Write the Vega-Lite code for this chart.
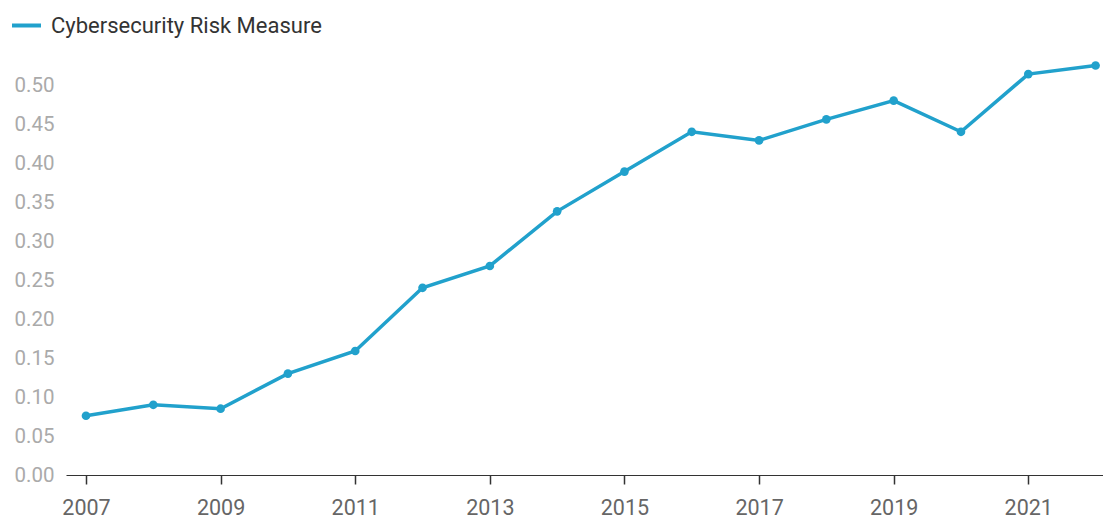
{
  "$schema": "https://vega.github.io/schema/vega-lite/v6.json",
  "width": 1037,
  "height": 429,
  "autosize": {"type": "none"},
  "padding": {"left": 66, "top": 46, "right": 0, "bottom": 44},
  "background": "white",
  "config": {"view": {"stroke": null}, "font": "Roboto"},
  "data": {"values": [
    {"year": 2007, "value": 0.076, "series": "Cybersecurity Risk Measure"},
    {"year": 2008, "value": 0.090, "series": "Cybersecurity Risk Measure"},
    {"year": 2009, "value": 0.085, "series": "Cybersecurity Risk Measure"},
    {"year": 2010, "value": 0.130, "series": "Cybersecurity Risk Measure"},
    {"year": 2011, "value": 0.159, "series": "Cybersecurity Risk Measure"},
    {"year": 2012, "value": 0.240, "series": "Cybersecurity Risk Measure"},
    {"year": 2013, "value": 0.268, "series": "Cybersecurity Risk Measure"},
    {"year": 2014, "value": 0.338, "series": "Cybersecurity Risk Measure"},
    {"year": 2015, "value": 0.389, "series": "Cybersecurity Risk Measure"},
    {"year": 2016, "value": 0.440, "series": "Cybersecurity Risk Measure"},
    {"year": 2017, "value": 0.429, "series": "Cybersecurity Risk Measure"},
    {"year": 2018, "value": 0.456, "series": "Cybersecurity Risk Measure"},
    {"year": 2019, "value": 0.480, "series": "Cybersecurity Risk Measure"},
    {"year": 2020, "value": 0.440, "series": "Cybersecurity Risk Measure"},
    {"year": 2021, "value": 0.514, "series": "Cybersecurity Risk Measure"},
    {"year": 2022, "value": 0.525, "series": "Cybersecurity Risk Measure"}
  ]},
  "encoding": {
    "x": {
      "field": "year", "type": "quantitative",
      "scale": {"domain": [2006.703, 2022.11], "nice": false, "zero": false},
      "axis": {
        "title": null,
        "values": [2007, 2009, 2011, 2013, 2015, 2017, 2019, 2021],
        "format": "d",
        "grid": false,
        "domainColor": "#333333",
        "domainWidth": 1.2,
        "tickColor": "#333333",
        "tickSize": 9,
        "tickWidth": 1.5,
        "labelFontSize": 21.5,
        "labelColor": "#666666",
        "labelPadding": 13,
        "labelFont": "Roboto"
      }
    },
    "y": {
      "field": "value", "type": "quantitative",
      "scale": {"domain": [0, 0.55], "nice": false},
      "axis": {
        "title": null,
        "values": [0, 0.05, 0.1, 0.15, 0.2, 0.25, 0.3, 0.35, 0.4, 0.45, 0.5],
        "format": ".2f",
        "grid": false,
        "domain": false,
        "ticks": false,
        "labelFontSize": 20.5,
        "labelColor": "#aaaaaa",
        "labelPadding": 12,
        "labelFont": "Roboto"
      }
    }
  },
  "layer": [
    {
      "mark": {"type": "line", "strokeWidth": 3.5},
      "encoding": {
        "color": {
          "field": "series", "type": "nominal",
          "scale": {"range": ["#21a1cc"]},
          "legend": {
            "title": null,
            "orient": "none",
            "legendX": -56,
            "legendY": -37,
            "symbolType": "stroke",
            "symbolSize": 841,
            "symbolStrokeWidth": 4,
            "labelFontSize": 22,
            "labelColor": "#333333",
            "labelFont": "Roboto",
            "labelOffset": 8,
            "labelLimit": 500
          }
        }
      }
    },
    {
      "mark": {"type": "point", "filled": true, "size": 75, "opacity": 1, "color": "#21a1cc"}
    }
  ]
}
